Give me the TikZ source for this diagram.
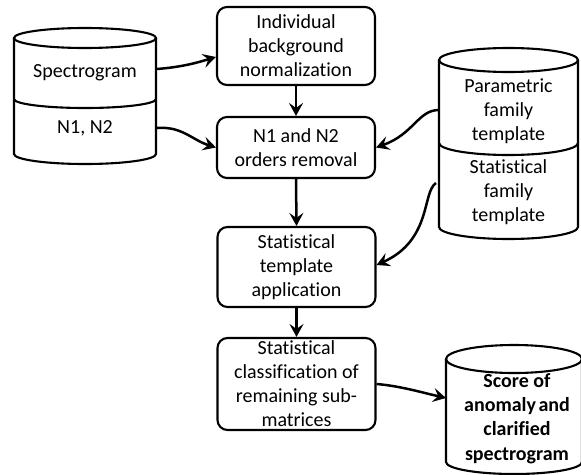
\documentclass[tikz,border=0pt]{standalone}
\usepackage{fontspec}
\setmainfont[RawFeature=-liga]{Carlito}
\usetikzlibrary{arrows.meta}
\tikzset{
  txt/.style={font=\fontsize{20}{24}\selectfont, align=center, inner sep=0pt},
  procbox/.style={txt, draw, line width=2.1pt, rounded corners=10pt, minimum width=158pt},
  cyl/.style={line width=2.1pt},
  arr/.style={line width=2.5pt, -{Stealth[length=13pt,width=14pt,inset=5pt]}},
}
\begin{document}
\begin{tikzpicture}[x=1pt,y=-1pt]
\useasboundingbox (0,0) rectangle (581,474);
\clip (0,0) rectangle (581,474);
\fill[white] (0,0) rectangle (581,474);

% left cylinder
\draw[cyl] (14,38) -- (14,154) arc[start angle=180,end angle=360,x radius=71pt,y radius=10pt] -- (156,38);
\draw[cyl] (85,38) ellipse[x radius=71pt,y radius=10pt];
\draw[cyl] (14,99) arc[start angle=180,end angle=360,x radius=71pt,y radius=9pt];
\node[txt] (spec) at (85,73) {Spectrogram};
\node[txt] (n12) at (85,128) {N1, N2};
\coordinate (specR) at (157,69);
\coordinate (n12R) at (157,128);

% right cylinder
\draw[cyl] (439,60) -- (439,227) arc[start angle=180,end angle=360,x radius=69.5pt,y radius=12pt] -- (578,60);
\draw[cyl] (508.5,60) ellipse[x radius=69.5pt,y radius=12pt];
\draw[cyl] (439,143) arc[start angle=180,end angle=360,x radius=69.5pt,y radius=12pt];
\node[txt] (param) at (508.5,111) {Parametric\\family\\template};
\node[txt] (stat) at (508.5,192.5) {Statistical\\family\\template};
\coordinate (paramL) at (439,110);
\coordinate (statL) at (436,183);

% bottom-right cylinder
\draw[cyl] (446,359) -- (446,462) arc[start angle=180,end angle=360,x radius=68pt,y radius=12pt] -- (582,359);
\draw[cyl] (514,359) ellipse[x radius=68pt,y radius=14pt];
\node[txt, font=\fontsize{20}{24.3}\selectfont\bfseries] (score) at (517,418.5) {Score of\\anomaly\hspace{-2pt} and\\clarified\\spectrogram};
\coordinate (scoreL) at (446,398);

% process boxes
\node[procbox, minimum height=78pt] (b1) at (296,46) {Individual\\background\\normalization};
\node[procbox, minimum height=61pt] (b2) at (296,147.5) {N1 and N2\\orders removal};
\node[procbox, minimum height=80pt] (b3) at (296.5,267) {Statistical\\template\\application};
\node[procbox, minimum height=92pt] (b4) at (296.5,384) {Statistical\\classification of\\remaining sub-\\matrices};

% connectors
\draw[arr] (b1.south) -- (b2.north);
\draw[arr] (b2.south) -- (b3.north);
\draw[arr] (b3.south) -- (b4.north);
\draw[arr] (specR) .. controls (182,67) and (196,63) .. ([yshift=-11pt]b1.west);
\draw[arr] (n12R) .. controls (182,126) and (192,140) .. (b2.west);
\draw[arr] (paramL) .. controls (418,110) and (414,134) .. (b2.east);
\draw[arr] (statL) .. controls (422,192) and (432,240) .. ([yshift=2pt]b3.east);
\draw[arr] (b4.east) .. controls (400,386) and (420,392) .. (scoreL);
\end{tikzpicture}
\end{document}
